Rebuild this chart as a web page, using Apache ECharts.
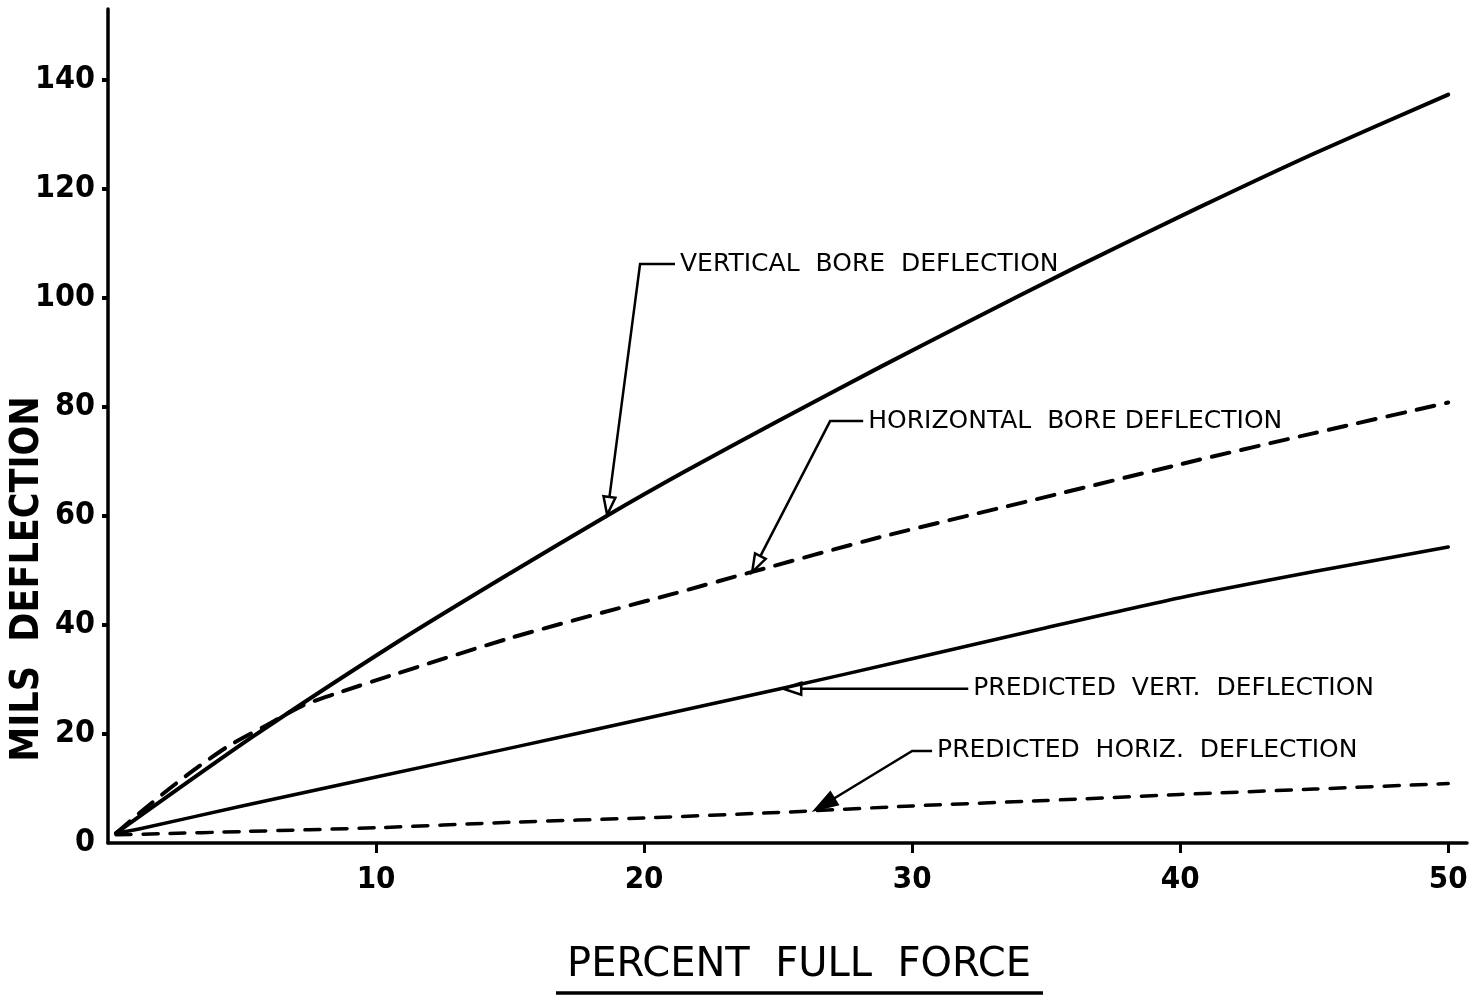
<!DOCTYPE html>
<html>
<head>
<meta charset="utf-8">
<script src="https://cdn.jsdelivr.net/npm/echarts@6/dist/echarts.min.js"></script>
<style>
  html, body { margin: 0; padding: 0; background: #fff; }
  #chart { width: 1475px; height: 999px; }
</style>
</head>
<body>
<div id="chart"></div>
<script>
// Bore deflection (mils) against percent of full force: measured and predicted.
const xTicks = [10, 20, 30, 40, 50];
const yTicks = [0, 20, 40, 60, 80, 100, 120, 140];
const xTitle = 'PERCENT  FULL  FORCE';
const yTitle = 'MILS  DEFLECTION';

const verticalBore = [
  [0.3, 1.8], [5.4, 19.5], [10.9, 37.2], [15, 49.5], [18.6, 60.0], [21.5, 68.1],
  [25, 77.4], [28.8, 87.3], [32, 95.4], [36.1, 105.6], [40.7, 116.6], [45, 126.5], [50, 137.3]
];
const horizontalBore = [
  [0.3, 1.8], [1.3, 6.0], [2.3, 10.0], [3.4, 14.1], [4.5, 17.8], [5.8, 21.3],
  [7.3, 25.3], [8.5, 27.4], [10.6, 30.8], [15, 37.6], [19, 43.0], [21, 45.6],
  [24, 49.7], [28.8, 56.1], [35, 63.5], [40.7, 70.3], [45, 75.2], [50, 80.8]
];
const predictedVert = [
  [0.3, 1.8], [1.2, 2.6], [5, 6.8], [10, 12.1], [15, 17.4], [20, 22.8],
  [25, 28.2], [30, 33.8], [35, 39.5], [40, 45.0], [45, 49.8], [50, 54.3]
];
const predictedHoriz = [
  [0.3, 1.5], [2, 1.7], [5, 2.1], [10, 2.8], [15, 3.8], [20, 4.6],
  [25, 5.6], [30, 6.8], [35, 7.8], [40, 8.9], [45, 9.9], [50, 10.9]
];

// Callout labels: arrow tip on the curve, leader elbow, and where the text begins (data units)
const callouts = [
  { text: 'VERTICAL  BORE  DEFLECTION', tip: [18.62, 60.2], elbow: [19.85, 106.2], textAt: [21.34, 106.2], head: 'open' },
  { text: 'HORIZONTAL  BORE DEFLECTION', tip: [24.03, 49.7], elbow: [26.94, 77.4], textAt: [28.36, 77.4], head: 'open' },
  { text: 'PREDICTED  VERT.  DEFLECTION', tip: [25.19, 28.3], elbow: [31.98, 28.3], textAt: [32.28, 28.3], head: 'open' },
  { text: 'PREDICTED  HORIZ.  DEFLECTION', tip: [26.38, 6.06], elbow: [30.0, 16.9], textAt: [30.93, 16.9], head: 'filled' }
];

const INK = '#000';
const FONT = '"DejaVu Sans", sans-serif';
const FONT_NUM = '"DejaVu Sans Condensed", "DejaVu Sans", sans-serif';

const chart = echarts.init(document.getElementById('chart'), null, { renderer: 'canvas' });

function lineSeries(name, data, width, dash) {
  return {
    name: name,
    type: 'line',
    data: data,
    smooth: 0.25,
    showSymbol: false,
    symbol: 'none',
    silent: true,
    lineStyle: { color: INK, width: width, type: dash || 'solid', cap: 'round', join: 'round' }
  };
}

chart.setOption({
  backgroundColor: '#fff',
  animation: false,
  grid: { left: 108, right: 8, top: 9, bottom: 156, containLabel: false, outerBoundsMode: 'none' },
  xAxis: {
    type: 'value', min: 0, max: 50.7,
    axisLine: { show: true, onZero: false, lineStyle: { color: INK, width: 3.5 } },
    axisTick: { show: true, inside: false, length: 10, customValues: xTicks, lineStyle: { color: INK, width: 3 } },
    axisLabel: { customValues: xTicks, margin: 21, fontFamily: FONT_NUM, fontWeight: 'bold', fontSize: 31, color: INK },
    splitLine: { show: false }
  },
  yAxis: {
    type: 'value', min: 0, max: 153,
    axisLine: { show: true, onZero: false, lineStyle: { color: INK, width: 3.5 } },
    axisTick: { show: true, inside: false, length: 6, customValues: yTicks.filter(v => v > 0), lineStyle: { color: INK, width: 4 } },
    axisLabel: { customValues: yTicks, margin: 13, fontFamily: FONT_NUM, fontWeight: 'bold', fontSize: 32, color: INK },
    splitLine: { show: false }
  },
  series: [
    lineSeries('Vertical bore deflection', verticalBore, 4),
    lineSeries('Horizontal bore deflection', horizontalBore, 4, [18, 12]),
    lineSeries('Predicted vert. deflection', predictedVert, 3.5),
    lineSeries('Predicted horiz. deflection', predictedHoriz, 3.5, [15, 12])
  ]
});

// Leader lines, arrowheads and callout text placed through the grid's coordinate system
function px(p) { return chart.convertToPixel({ gridIndex: 0 }, p); }

const graphics = [];
callouts.forEach(function (c) {
  const tip = px(c.tip), elbow = px(c.elbow), textAt = px(c.textAt);
  const endX = textAt[0] - 5;
  graphics.push({
    type: 'polyline', silent: true,
    shape: { points: [[endX, elbow[1]], elbow, tip] },
    style: { stroke: INK, lineWidth: 2.5, fill: null }
  });
  const dx = tip[0] - elbow[0], dy = tip[1] - elbow[1];
  const len = Math.sqrt(dx * dx + dy * dy);
  const ux = dx / len, uy = dy / len, nx = -uy, ny = ux;
  const L = c.head === 'filled' ? 22 : 18, W = c.head === 'filled' ? 7 : 6;
  const bx = tip[0] - ux * L, by = tip[1] - uy * L;
  graphics.push({
    type: 'polygon', silent: true,
    shape: { points: [tip, [bx + nx * W, by + ny * W], [bx - nx * W, by - ny * W]] },
    style: { stroke: INK, lineWidth: 2.5, fill: c.head === 'filled' ? INK : '#fff' }
  });
  graphics.push({
    type: 'text', silent: true,
    x: textAt[0], y: textAt[1],
    style: { text: c.text, fill: INK, font: '25px ' + FONT, align: 'left', verticalAlign: 'middle' }
  });
});

// Axis titles: horizontal one underlined, vertical one reading upward
graphics.push({
  type: 'text', silent: true, x: 799, y: 966,
  style: { text: xTitle, fill: INK, font: '40px ' + FONT, align: 'center', verticalAlign: 'middle' }
});
graphics.push({
  type: 'line', silent: true,
  shape: { x1: 556, y1: 993, x2: 1043, y2: 993 },
  style: { stroke: INK, lineWidth: 3.5 }
});
graphics.push({
  type: 'text', silent: true, x: 28, y: 579, rotation: Math.PI / 2,
  style: { text: yTitle, fill: INK, font: 'bold 39px ' + FONT_NUM, align: 'center', verticalAlign: 'middle' }
});

chart.setOption({ graphic: graphics });
</script>
</body>
</html>
